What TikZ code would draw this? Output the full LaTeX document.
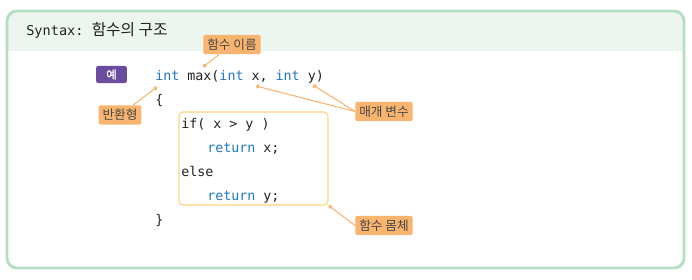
\documentclass[tikz,border=0pt]{standalone}
\usepackage{fontspec}
\setmonofont{DejaVu Sans Mono}
\newfontfamily\kr{Noto Sans CJK KR}
\newfontfamily\krbold[FakeBold=1.5]{Noto Sans CJK KR}
\usepackage{xcolor}
\usetikzlibrary{positioning, arrows.meta}

\definecolor{framegreen}{HTML}{B4DEC1}
\definecolor{headgreen}{HTML}{ECF6EF}
\definecolor{tagorange}{HTML}{F9B470}
\definecolor{boxorange}{HTML}{FFD37F}
\definecolor{kwblue}{HTML}{1F78C4}
\definecolor{codeink}{HTML}{222222}
\definecolor{badgepurple}{HTML}{6A4C9E}

\newcommand{\kw}[1]{\textcolor{kwblue}{#1}}

\begin{document}
\begin{tikzpicture}[
  x=0.75pt, y=-0.75pt,
  tag/.style={fill=tagorange, rounded corners=1.5pt, inner xsep=3pt, inner ysep=0pt, minimum height=14.5pt, font=\kr\fontsize{9.5}{10}\selectfont, text=black!72},
  lead/.style={draw=tagorange, line width=0.8pt, {Circle[length=3pt]}-},
  code/.style={anchor=base west, inner sep=0pt, font=\ttfamily\fontsize{10}{12}\selectfont, text=codeink}
]
  \useasboundingbox (0,0) rectangle (692,279);

  % frame and header band
  \begin{scope}
    \clip (7,11) rectangle (684,50);
    \fill[headgreen, rounded corners=7.5pt] (7,11) rectangle (684,268);
  \end{scope}
  \draw[framegreen, line width=2.2pt, rounded corners=7.5pt] (7,11) rectangle (684,268);
  \node[anchor=west, inner sep=0pt, text=codeink] (title) at (26,30)
    {\ttfamily\fontsize{10.2}{12}\selectfont Syntax: {\kr\fontsize{11.8}{12}\selectfont 함수의 구조}};

  % example badge
  \node[fill=badgepurple, rounded corners=1.5pt, minimum width=23pt, minimum height=12.8pt, inner sep=0pt, text=white, font=\krbold\fontsize{8.5}{9}\selectfont] (ex) at (111.5,74.5) {예};

  % code
  \node[code] (l1) at (155,80) {\kw{int} max(\kw{int} x, \kw{int} y)};
  \node[code] (l2) at (155,104) {\{};
  \node[draw=boxorange, line width=0.9pt, rounded corners=3pt, minimum width=111.75pt, minimum height=69.75pt, inner sep=0pt] (body) at (253.5,158.5) {};
  \node[code] (l3) at (181,128) {if( x > y )};
  \node[code] (l4) at (207,152) {\kw{return} x;};
  \node[code] (l5) at (181,176) {else};
  \node[code] (l6) at (207,200) {\kw{return} y;};
  \node[code] (l7) at (155,224) {\}};

  % callouts
  \node[tag] (fname) at (232,44.5) {함수 이름};
  \node[tag] (rtype) at (120,115) {반환형};
  \node[tag] (pname) at (384,111.5) {매개 변수};
  \node[tag] (bname) at (384,225.5) {함수 몸체};

  \coordinate (fdot) at (203,67);
  \coordinate (rdot) at (157,87);
  \coordinate (xdot) at (256,86);
  \coordinate (ydot) at (313,85);

  \draw[lead] (fdot) -- (fname);
  \draw[lead] (rdot) -- (rtype);
  \draw[lead] (xdot) -- (pname.west);
  \draw[lead] (ydot) -- (pname.west);
  \draw[lead] (body.south east) -- (bname.west);
\end{tikzpicture}
\end{document}
